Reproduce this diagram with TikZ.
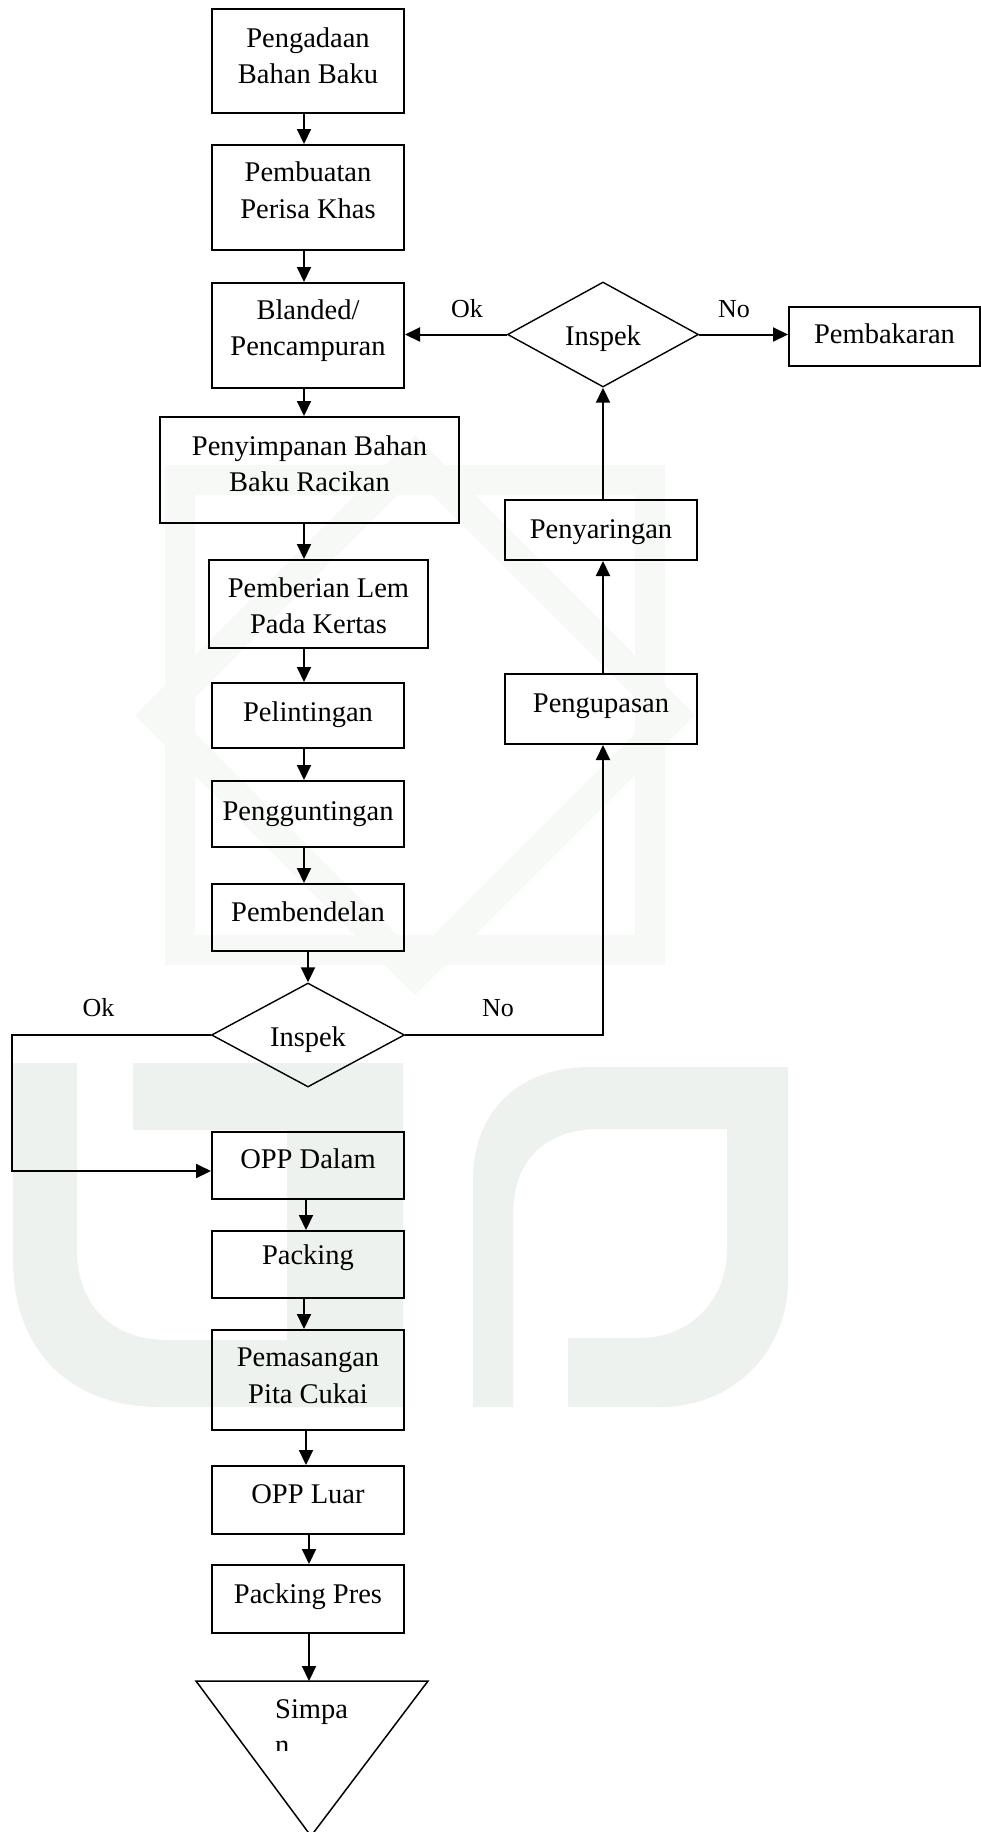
\documentclass[tikz,border=0pt]{standalone}
\usepackage{fontspec}
\setmainfont{Liberation Serif}
\usetikzlibrary{arrows.meta,shapes.geometric}
\definecolor{wmlow}{RGB}{238,242,239}
\definecolor{wmtop}{RGB}{247,249,247}
% invisible struts: fixed first-line height and adjustable last-line depth
\newcommand{\uph}{\rule{0pt}{30pt}}
\newcommand{\dnd}[1]{\rule[-#1pt]{0pt}{0pt}}
\begin{document}
\begin{tikzpicture}[x=1pt,y=-1pt,
  box/.style={draw, line width=2pt, rectangle, inner sep=0pt, align=center,
              font=\fontsize{28.5}{36.5}\selectfont},
  sz/.style 2 args={minimum width=#1pt, minimum height=#2pt},
  dec/.style={draw, diamond, shape aspect=2, line width=1.4pt, inner sep=0pt,
              minimum width=193pt, minimum height=104pt,
              font=\fontsize{28.5}{36.5}\selectfont},
  arr/.style={line width=2pt, -{Triangle[length=15pt,width=14pt]}},
  lbl/.style={anchor=base, inner sep=0pt, font=\fontsize{26}{30}\selectfont},
  stxt/.style={anchor=base west, inner sep=0pt, font=\fontsize{28.5}{36.5}\selectfont}]

\fill[white] (0,0) rectangle (981,1832);
\useasboundingbox (0,0) rectangle (981,1832);

% faint logo in the background
\begin{scope}[shift={(415,715)}]
  \fill[wmtop, even odd rule] (-250,-250) rectangle (250,250) (-220,-220) rectangle (220,220);
  \fill[wmtop, even odd rule] (0,-280) -- (280,0) -- (0,280) -- (-280,0) -- cycle
                              (0,-238) -- (238,0) -- (0,238) -- (-238,0) -- cycle;
\end{scope}
\fill[wmlow] (13,1063) -- (77,1063) -- (77,1250) .. controls (77,1305) and (112,1340) .. (167,1340)
  -- (287,1340) -- (287,1130) -- (133,1130) -- (133,1063) -- (403,1063) -- (403,1407)
  -- (160,1407) .. controls (70,1407) and (13,1350) .. (13,1260) -- cycle;
\fill[wmlow] (473,1407) -- (473,1180) .. controls (473,1110) and (520,1067) .. (590,1067)
  -- (788,1067) -- (788,1280) .. controls (788,1350) and (735,1407) .. (660,1407)
  -- (568,1407) -- (568,1338) -- (640,1338) .. controls (690,1338) and (727,1300) .. (727,1250)
  -- (727,1129) -- (600,1129) .. controls (545,1129) and (513,1160) .. (513,1215)
  -- (513,1407) -- cycle;

% main column
\node[box, sz={192}{104}] (b1) at (308,61) {\uph Pengadaan\\Bahan Baku\dnd{21}};
\node[box, sz={192}{105}] (b2) at (308,197.5) {\uph Pembuatan\\Perisa Khas\dnd{25}};
\node[box, sz={192}{105}] (b3) at (308,335.5) {\uph Blanded/\\Pencampuran\dnd{26.5}};
\node[box, sz={299}{106}] (b4) at (309.5,470) {\uph Penyimpanan Bahan\\Baku Racikan\dnd{23.5}};
\node[box, sz={219}{88}] (b5) at (318.5,604) {\uph Pemberian Lem\\Pada Kertas\dnd{7.5}};
\node[box, sz={192}{65}] (b6) at (308,715.5) {\uph Pelintingan\dnd{18}};
\node[box, sz={192}{66}] (b7) at (308,814) {\uph Pengguntingan\dnd{18}};
\node[box, sz={192}{67}] (b8) at (308,917.5) {\uph Pembendelan\dnd{23}};
\node[dec] (d2) at (308,1035) {\uph Inspek\dnd{7}};
\node[box, sz={192}{67}] (b9) at (308,1165.5) {\uph OPP Dalam\dnd{24}};
\node[box, sz={192}{67}] (b10) at (308,1264.5) {\uph Packing\dnd{30}};
\node[box, sz={192}{100}] (b11) at (308,1380) {\uph Pemasangan\\Pita Cukai\dnd{20}};
\node[box, sz={192}{68}] (b12) at (308,1500) {\uph OPP Luar\dnd{24}};
\node[box, sz={192}{68}] (b13) at (308,1599) {\uph Packing Pres\dnd{21}};

% rework branch
\node[dec, minimum width=191pt, minimum height=105pt] (d1) at (603,334.5) {\uph Inspek\dnd{9}};
\node[box, sz={191}{59}] (pb) at (884.5,336.5) {\uph Pembakaran\dnd{17}};
\node[box, sz={192}{60}] (ps) at (601,530) {\uph Penyaringan\dnd{13}};
\node[box, sz={192}{70}] (pk) at (601,709) {\uph Pengupasan\dnd{23}};

% branch labels
\node[lbl] (ok1) at (467,317) {Ok};
\node[lbl] (no1) at (734,317) {No};
\node[lbl] (ok2) at (98.5,1016) {Ok};
\node[lbl] (no2) at (498,1016) {No};

% storage symbol
\coordinate (tritl) at (196,1681);
\coordinate (tritr) at (428,1681);
\coordinate (trib) at (311,1836);
\coordinate (tritop) at (309,1681);
\draw[line width=1.5pt] (tritl) -- (tritr) -- (trib) -- cycle;
\begin{scope}
  \clip (250,1690) rectangle (380,1750);
  \node[stxt] (s1) at (275,1718) {Simpa};
  \node[stxt] (s2) at (275,1754.5) {n};
\end{scope}

% connector columns
\coordinate (c1) at (304,0);
\coordinate (c2) at (306,0);
\coordinate (c3) at (309,0);
\coordinate (okc) at (12,1171);

\draw[arr] (b1.south -| c1) -- (b2.north -| c1);
\draw[arr] (b2.south -| c1) -- (b3.north -| c1);
\draw[arr] (b3.south -| c1) -- (b4.north -| c1);
\draw[arr] (b4.south -| c1) -- (b5.north -| c1);
\draw[arr] (b5.south -| c1) -- (b6.north -| c1);
\draw[arr] (b6.south -| c1) -- (b7.north -| c1);
\draw[arr] (b7.south -| c1) -- (b8.north -| c1);
\draw[arr] (b8.south -| d2.north) -- (d2.north);
\draw[arr] (b9.south -| c2) -- (b10.north -| c2);
\draw[arr] (b10.south -| c1) -- (b11.north -| c1);
\draw[arr] (b11.south -| c2) -- (b12.north -| c2);
\draw[arr] (b12.south -| c3) -- (b13.north -| c3);
\draw[arr] (b13.south -| c3) -- (tritop);

\draw[arr] (d2.west) -| (okc) -- (okc -| b9.west);
\draw[arr] (d2.east) -| (pk.south -| d1.south);
\draw[arr] (pk.north -| d1.south) -- (ps.south -| d1.south);
\draw[arr] (ps.north -| d1.south) -- (d1.south);
\draw[arr] (d1.west) -- (d1.west -| b3.east);
\draw[arr] (d1.east) -- (d1.east -| pb.west);
\end{tikzpicture}
\end{document}
